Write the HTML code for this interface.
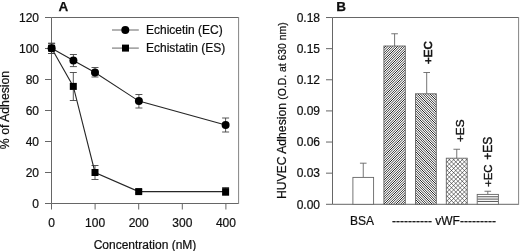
<!DOCTYPE html>
<html><head><meta charset="utf-8"><title>Figure</title>
<style>html,body{margin:0;padding:0;background:#fff;}svg{display:block;}text{font-family:"Liberation Sans",sans-serif;fill:#111;stroke:#111;stroke-width:0.22px;}</style>
</head><body>
<svg width="520" height="251" viewBox="0 0 520 251">
<defs>
<linearGradient id="g1" gradientUnits="userSpaceOnUse" x1="0" y1="0" x2="1.2" y2="1.2" spreadMethod="repeat"><stop offset="0" stop-color="#242424"/><stop offset="0.370" stop-color="#fff"/><stop offset="0.630" stop-color="#fff"/><stop offset="1" stop-color="#242424"/></linearGradient>
<linearGradient id="g2" gradientUnits="userSpaceOnUse" x1="0" y1="0" x2="1.2" y2="-1.2" spreadMethod="repeat"><stop offset="0" stop-color="#242424"/><stop offset="0.370" stop-color="#fff"/><stop offset="0.630" stop-color="#fff"/><stop offset="1" stop-color="#242424"/></linearGradient>
<filter id="soft" x="0" y="0" width="520" height="251" filterUnits="userSpaceOnUse"><feGaussianBlur stdDeviation="0.35"/></filter>
</defs>
<g filter="url(#soft)">
<rect width="520" height="251" fill="#fff"/>
<g stroke="#666" stroke-width="1" fill="none">
<path d="M238.6 17.5H51.5V203.5H238.6"/><path d="M238.6 17.0V204.0" stroke="#858585"/>
<line x1="45.0" y1="203.5" x2="51.5" y2="203.5"/>
<line x1="45.0" y1="172.5" x2="51.5" y2="172.5"/>
<line x1="45.0" y1="141.5" x2="51.5" y2="141.5"/>
<line x1="45.0" y1="110.5" x2="51.5" y2="110.5"/>
<line x1="45.0" y1="79.5" x2="51.5" y2="79.5"/>
<line x1="45.0" y1="48.5" x2="51.5" y2="48.5"/>
<line x1="45.0" y1="17.5" x2="51.5" y2="17.5"/>
<line x1="51.50" y1="203.5" x2="51.50" y2="209.5"/>
<line x1="95.10" y1="203.5" x2="95.10" y2="209.5"/>
<line x1="138.70" y1="203.5" x2="138.70" y2="209.5"/>
<line x1="182.30" y1="203.5" x2="182.30" y2="209.5"/>
<line x1="225.90" y1="203.5" x2="225.90" y2="209.5"/>
</g>
<text x="39" y="207.8" font-size="12" text-anchor="end">0</text>
<text x="39" y="176.8" font-size="12" text-anchor="end">20</text>
<text x="39" y="145.8" font-size="12" text-anchor="end">40</text>
<text x="39" y="114.8" font-size="12" text-anchor="end">60</text>
<text x="39" y="83.8" font-size="12" text-anchor="end">80</text>
<text x="39" y="52.8" font-size="12" text-anchor="end">100</text>
<text x="39" y="21.8" font-size="12" text-anchor="end">120</text>
<text x="51.50" y="227.3" font-size="12" text-anchor="middle">0</text>
<text x="95.10" y="227.3" font-size="12" text-anchor="middle">100</text>
<text x="138.70" y="227.3" font-size="12" text-anchor="middle">200</text>
<text x="182.30" y="227.3" font-size="12" text-anchor="middle">300</text>
<text x="225.90" y="227.3" font-size="12" text-anchor="middle">400</text>
<text x="145" y="248.6" font-size="12" text-anchor="middle">Concentration (nM)</text>
<text transform="translate(9.4,110.0) rotate(-90)" font-size="12.25" text-anchor="middle">% of Adhesion</text>
<text x="58.4" y="10.5" font-size="13.5" font-weight="bold" style="stroke-width:0.25px">A</text>
<g stroke="#444" stroke-width="0.9" fill="none">
<path d="M51.6 43.3V53.5M48.1 43.3H55.1M48.1 53.5H55.1"/>
<path d="M73.4 54.5V66.6M69.9 54.5H76.9M69.9 66.6H76.9"/>
<path d="M95 67.5V77M91.5 67.5H98.5M91.5 77H98.5"/>
<path d="M138.9 94.5V108M135.4 94.5H142.4M135.4 108H142.4"/>
<path d="M225.6 118V132M222.1 118H229.1M222.1 132H229.1"/>
<path d="M51.6 43.3V53.5M48.1 43.3H55.1M48.1 53.5H55.1"/>
<path d="M73.3 72.5V100.5M69.8 72.5H76.8M69.8 100.5H76.8"/>
<path d="M95 165.5V179.5M91.5 165.5H98.5M91.5 179.5H98.5"/>
<path d="M138.7 189.5V193M135.2 189.5H142.2M135.2 193H142.2"/>
<path d="M225.6 187.5V195.5M222.1 187.5H229.1M222.1 195.5H229.1"/>
</g>
<g stroke="#262626" stroke-width="1.1" fill="none">
<polyline points="51.6,48.2 73.4,60.6 95,72.5 138.9,101.1 225.6,125"/>
<polyline points="51.6,48.2 73.3,86.4 95,172.5 138.7,191.6 225.6,191.6"/>
</g>
<g stroke="#808080" stroke-width="1.2" fill="none">
<line x1="112" y1="30" x2="138.8" y2="30"/><line x1="112" y1="48.1" x2="138.8" y2="48.1"/>
</g>
<g fill="#000">
<circle cx="51.6" cy="48.2" r="4"/>
<circle cx="73.4" cy="60.6" r="4"/>
<circle cx="95" cy="72.5" r="4"/>
<circle cx="138.9" cy="101.1" r="4"/>
<circle cx="225.6" cy="125" r="4"/>
<rect x="48.1" y="44.7" width="7" height="7"/>
<rect x="69.8" y="82.9" width="7" height="7"/>
<rect x="91.5" y="169.0" width="7" height="7"/>
<rect x="135.2" y="188.1" width="7" height="7"/>
<rect x="222.1" y="188.1" width="7" height="7"/>
<circle cx="125.3" cy="30.1" r="4"/><rect x="122" y="44.6" width="7" height="7"/>
</g>
<text x="146" y="34.2" font-size="12">Echicetin (EC)</text>
<text x="146" y="52.2" font-size="12">Echistatin (ES)</text>
<g stroke="#666" stroke-width="1" fill="none">
<path d="M518.6 17.5H332.5V204.3H518.6"/><path d="M518.6 17.0V204.8" stroke="#858585"/>
<line x1="326.0" y1="204.30" x2="332.5" y2="204.30"/>
<line x1="326.0" y1="173.17" x2="332.5" y2="173.17"/>
<line x1="326.0" y1="142.04" x2="332.5" y2="142.04"/>
<line x1="326.0" y1="110.91" x2="332.5" y2="110.91"/>
<line x1="326.0" y1="79.78" x2="332.5" y2="79.78"/>
<line x1="326.0" y1="48.65" x2="332.5" y2="48.65"/>
<line x1="326.0" y1="17.52" x2="332.5" y2="17.52"/>
</g>
<text x="320" y="208.60" font-size="12" text-anchor="end">0.00</text>
<text x="320" y="177.47" font-size="12" text-anchor="end">0.03</text>
<text x="320" y="146.34" font-size="12" text-anchor="end">0.06</text>
<text x="320" y="115.21" font-size="12" text-anchor="end">0.09</text>
<text x="320" y="84.08" font-size="12" text-anchor="end">0.12</text>
<text x="320" y="52.95" font-size="12" text-anchor="end">0.15</text>
<text x="320" y="21.82" font-size="12" text-anchor="end">0.18</text>
<text x="336.3" y="10.5" font-size="13.5" font-weight="bold" style="stroke-width:0.25px">B</text>
<text transform="translate(286.3,199.1) rotate(-90)" font-size="12.18">HUVEC Adhesion <tspan font-size="10.38">(O.D. at 630 nm)</tspan></text>
</g>
<path d="M363.25 177.4V163.2M359.95 163.2H366.55" stroke="#666" stroke-width="0.9" fill="none"/>
<clipPath id="cp0"><rect x="352.9" y="177.4" width="20.70" height="26.90"/></clipPath>
<rect x="352.9" y="177.4" width="20.70" height="26.90" fill="#fff"/>
<rect x="352.9" y="177.4" width="20.70" height="26.90" fill="none" stroke="#666" stroke-width="0.9"/>
<path d="M394.60 46V33.75M391.30 33.75H397.90" stroke="#666" stroke-width="0.9" fill="none"/>
<clipPath id="cp1"><rect x="383.9" y="46" width="21.40" height="158.30"/></clipPath>
<rect x="383.9" y="46" width="21.40" height="158.30" fill="url(#g1)"/>
<rect x="383.9" y="46" width="21.40" height="158.30" fill="none" stroke="#666" stroke-width="0.9"/>
<path d="M426.70 93.8V72.5M423.40 72.5H430.00" stroke="#666" stroke-width="0.9" fill="none"/>
<clipPath id="cp2"><rect x="415.5" y="93.8" width="20.80" height="110.50"/></clipPath>
<rect x="415.5" y="93.8" width="20.80" height="110.50" fill="url(#g2)"/>
<rect x="415.5" y="93.8" width="20.80" height="110.50" fill="none" stroke="#666" stroke-width="0.9"/>
<path d="M456.75 158.2V149.25M453.45 149.25H460.05" stroke="#666" stroke-width="0.9" fill="none"/>
<clipPath id="cp3"><rect x="446.3" y="158.2" width="20.90" height="46.10"/></clipPath>
<rect x="446.3" y="158.2" width="20.90" height="46.10" fill="#fff"/>
<path d="M446.60 158.20L400.50 204.30M450.90 158.20L404.80 204.30M455.20 158.20L409.10 204.30M459.50 158.20L413.40 204.30M463.80 158.20L417.70 204.30M468.10 158.20L422.00 204.30M472.40 158.20L426.30 204.30M476.70 158.20L430.60 204.30M481.00 158.20L434.90 204.30M485.30 158.20L439.20 204.30M489.60 158.20L443.50 204.30M493.90 158.20L447.80 204.30M498.20 158.20L452.10 204.30M502.50 158.20L456.40 204.30M506.80 158.20L460.70 204.30M511.10 158.20L465.00 204.30M400.50 158.20L446.60 204.30M404.80 158.20L450.90 204.30M409.10 158.20L455.20 204.30M413.40 158.20L459.50 204.30M417.70 158.20L463.80 204.30M422.00 158.20L468.10 204.30M426.30 158.20L472.40 204.30M430.60 158.20L476.70 204.30M434.90 158.20L481.00 204.30M439.20 158.20L485.30 204.30M443.50 158.20L489.60 204.30M447.80 158.20L493.90 204.30M452.10 158.20L498.20 204.30M456.40 158.20L502.50 204.30M460.70 158.20L506.80 204.30M465.00 158.20L511.10 204.30" clip-path="url(#cp3)" stroke="#2a2a2a" stroke-width="0.62" fill="none"/>
<rect x="446.3" y="158.2" width="20.90" height="46.10" fill="none" stroke="#666" stroke-width="0.9"/>
<path d="M487.80 194.4V191.25M484.50 191.25H491.10" stroke="#666" stroke-width="0.9" fill="none"/>
<clipPath id="cp4"><rect x="477.2" y="194.4" width="21.20" height="9.90"/></clipPath>
<rect x="477.2" y="194.4" width="21.20" height="9.90" fill="#fff"/>
<path d="M477.2 196.75H498.4M477.2 199.10H498.4M477.2 201.45H498.4" clip-path="url(#cp4)" stroke="#2a2a2a" stroke-width="0.8" fill="none"/>
<rect x="477.2" y="194.4" width="21.20" height="9.90" fill="none" stroke="#666" stroke-width="0.9"/>
<g filter="url(#soft)">
<text x="362" y="225" font-size="12" text-anchor="middle">BSA</text>
<text x="392" y="225" font-size="12">---------- vWF---------</text>
<text transform="translate(431.5,64) rotate(-90)" font-size="11.5" style="stroke-width:0.65px">+EC</text>
<text transform="translate(464.1,142.1) rotate(-90)" font-size="11.8" style="stroke-width:0.4px">+ES</text>
<text transform="translate(492.2,186.8) rotate(-90)" font-size="11.3" style="stroke-width:0.4px">+EC</text>
<text transform="translate(492.3,159.8) rotate(-90)" font-size="12" style="stroke-width:0.4px">+ES</text>
</g></svg></body></html>
